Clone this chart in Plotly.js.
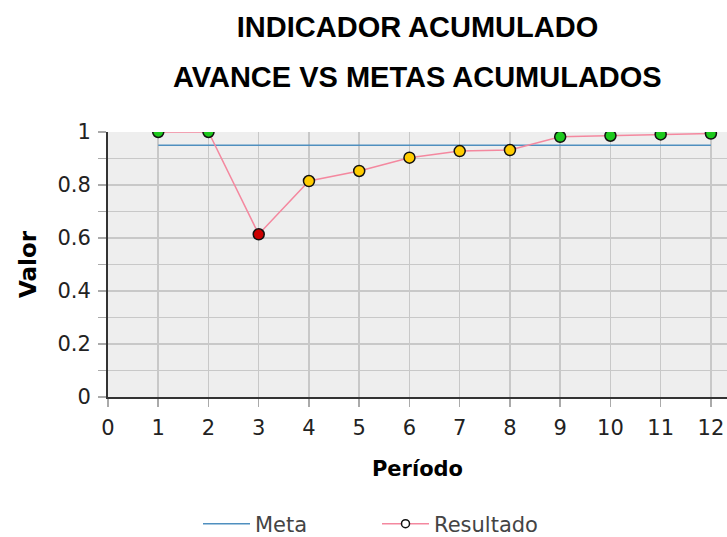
<!DOCTYPE html>
<html>
<head>
<meta charset="utf-8">
<script src="https://cdn.plot.ly/plotly-3.0.1.min.js"></script>
<style>html,body{margin:0;padding:0;background:#fff;}#chart{width:727px;height:537px;}</style>
</head>
<body>
<div id="chart"></div>
<script>
const periodos = [1,2,3,4,5,6,7,8,9,10,11,12];
const meta = [0.95,0.95,0.95,0.95,0.95,0.95,0.95,0.95,0.95,0.95,0.95,0.95];
const resultado = [1.0,1.0,0.614,0.815,0.853,0.903,0.928,0.932,0.982,0.986,0.991,0.994];
const colores = ['#1ec81e','#1ec81e','#cc0000','#ffcc00','#ffcc00','#ffcc00','#ffcc00','#ffcc00','#1ec81e','#1ec81e','#1ec81e','#1ec81e'];
const titulo1 = 'INDICADOR ACUMULADO';
const titulo2 = 'AVANCE VS METAS ACUMULADOS';

const traces = [
  {x: periodos, y: meta, mode: 'lines', name: 'Meta', line: {color: '#4f8fbf', width: 1.5}, showlegend: true},
  {x: periodos, y: resultado, mode: 'lines+markers', name: 'Resultado', showlegend: false,
   line: {color: '#f4889f', width: 1.5},
   marker: {color: colores, size: 11, line: {color: '#111', width: 1.5}}},
  {x: [null], y: [null], mode: 'lines+markers', name: 'Resultado',
   line: {color: '#f4889f', width: 1.5},
   marker: {color: '#ffffff', size: 8, line: {color: '#111', width: 1.5}}}
];

const tickFont = {family: 'DejaVu Sans', size: 21, color: '#222'};
const titleFont = {family: 'Liberation Sans', size: 29, color: '#000'};
const layout = {
  width: 727, height: 537,
  margin: {l: 108, r: 0, t: 132, b: 140},
  paper_bgcolor: '#ffffff',
  plot_bgcolor: '#eeeeee',
  title: {text: '<b>' + titulo1 + '</b>', font: titleFont,
          x: 0.5, xref: 'paper', y: 1 - 27/537, yref: 'container', yanchor: 'middle'},
  annotations: [{text: '<b>' + titulo2 + '</b>', font: titleFont,
                 xref: 'paper', yref: 'paper', x: 0.5, y: 1 + (132-77)/265,
                 xanchor: 'center', yanchor: 'middle', showarrow: false}],
  xaxis: {
    range: [0, 12.32], tickmode: 'linear', tick0: 0, dtick: 1,
    showgrid: true, gridcolor: '#c8c8c8', gridwidth: 1.5,
    ticks: 'outside', ticklen: 8, tickcolor: '#aaaaaa', tickwidth: 1.5,
    showline: true, linecolor: '#333333', linewidth: 2,
    zeroline: false, tickfont: tickFont, ticklabelstandoff: 3,
    title: {text: '<b>Período</b>', font: {family: 'DejaVu Sans', size: 21, color: '#000'}, standoff: 22}
  },
  yaxis: {
    range: [0, 1], tickmode: 'linear', tick0: 0, dtick: 0.2,
    showgrid: true, gridcolor: '#c8c8c8', gridwidth: 1.5,
    minor: {dtick: 0.1, showgrid: true, gridcolor: '#c8c8c8', gridwidth: 1.5, ticks: 'outside', ticklen: 8, tickcolor: '#aaaaaa'},
    ticks: 'outside', ticklen: 8, tickcolor: '#aaaaaa', tickwidth: 1.5,
    showline: true, linecolor: '#333333', linewidth: 2,
    zeroline: false, tickfont: tickFont, ticklabelstandoff: 3,
    title: {text: '<b>Valor</b>', font: {family: 'DejaVu Sans', size: 23, color: '#000'}, standoff: 14}
  },
  legend: {orientation: 'h', xref: 'container', yref: 'container', x: 198/727, xanchor: 'left',
           y: 1 - 524/537, yanchor: 'middle', font: {family: 'DejaVu Sans', size: 21, color: '#444'},
           itemwidth: 47, entrywidth: 117, bgcolor: 'rgba(0,0,0,0)'},
  showlegend: true
};

Plotly.newPlot('chart', traces, layout, {displayModeBar: false, staticPlot: true});
</script>
</body>
</html>
